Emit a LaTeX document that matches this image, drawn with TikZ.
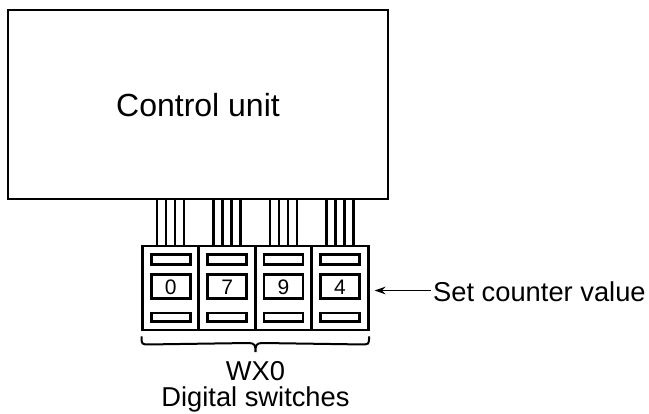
\documentclass[tikz,border=0pt]{standalone}
\usepackage{fontspec}
\setmainfont{Liberation Sans}
\usetikzlibrary{arrows.meta,calc}
\begin{document}
\begin{tikzpicture}[x=1pt,y=-1pt,
  unitbox/.style={draw,line width=2.9pt,minimum width=380pt,minimum height=189pt,inner sep=0pt},
  swbox/.style={draw,line width=2.9pt,minimum width=56.4pt,minimum height=84pt,inner sep=0pt},
  slot/.style={draw,line width=2.6pt,minimum width=39pt,minimum height=#1,inner sep=0pt},
  digitbox/.style={draw,line width=2.6pt,minimum width=39pt,minimum height=23.5pt,inner sep=0pt},
  wire/.style={line width=2.3pt},
  lbl/.style={font=\fontsize{27.3}{31}\selectfont,inner sep=0pt}]
\useasboundingbox (0,0) rectangle (649,414);
\node[unitbox] (cu) at (198,104.5) {};
\node[inner sep=0pt,font=\fontsize{32}{38}\selectfont,anchor=base] (cutxt) at (198,117) {Control unit};
\foreach \i/\x/\d in {1/170.7/0,2/227.1/7,3/283.5/9,4/339.9/4}{
  \node[swbox] (sw\i) at (\x,288) {};
  \node[slot=10pt] (top\i) at (\x,259.5) {};
  \node[digitbox] (dg\i) at (\x,286.5) {};
  \node[inner sep=0pt,font=\fontsize{21}{24}\selectfont,anchor=base] (dt\i) at (\x,294.3) {\d};
  \node[slot=8.5pt] (bot\i) at (\x,317.3) {};
  \foreach \dx in {-13.5,-4.5,4.5,13.5}{
    \draw[wire] ($(sw\i.north)+(\dx,0)$) coordinate (w) -- (w |- cu.south);
  }
}
\node[lbl,anchor=base west] (set) at (433,301.5) {Set counter value};
\coordinate (tip) at (374.5,290.5);
\draw[line width=1.9pt,-{Stealth[length=11pt,width=7.5pt]}] (set.west |- tip) ++(-2,0) -- (tip);
\draw[line width=2pt] (sw1.south west) ++(0.5,5) .. controls +(0,8) .. ++(8,8) coordinate (bl)
  -- (249,343) .. controls (255,343) and (255.5,346) .. (255.5,352)
  .. controls (255.5,346) and (256,343) .. (262,343)
  -- ($(sw4.south east)+(-8.5,13)$) .. controls ($(sw4.south east)+(-0.5,13)$) .. ($(sw4.south east)+(-0.5,5)$);
\node[lbl,anchor=base] (wx) at (255.5,380.5) {WX0};
\node[lbl,anchor=base] (ds) at (255.5,407) {Digital switches};
\end{tikzpicture}
\end{document}
